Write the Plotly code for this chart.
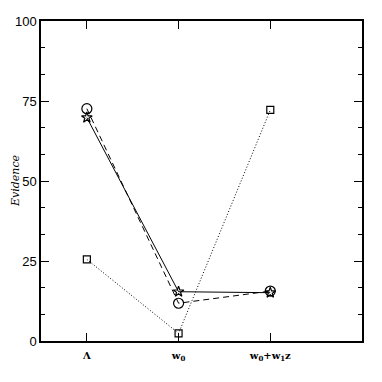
import plotly.graph_objects as go

# model positions and tick labels
models = [1, 2, 3]
model_labels = ["<b>Λ</b>", "<b>w<sub>0</sub></b>", "<b>w<sub>0</sub>+w<sub>1</sub>z</b>"]

# evidence values per series
stars = [69.8, 15.4, 15.1]
circles = [72.6, 11.8, 15.6]
squares = [25.5, 2.4, 72.2]

fig = go.Figure()

fig.add_trace(go.Scatter(
    x=models, y=squares, mode="lines+markers",
    line=dict(color="black", width=1, dash="1px,2px"),
    marker=dict(symbol="square-open", size=7, color="black", line=dict(width=1.2)),
))
fig.add_trace(go.Scatter(
    x=models, y=circles, mode="lines+markers",
    line=dict(color="black", width=1, dash="6px,4px"),
    marker=dict(symbol="circle-open", size=10, color="black", line=dict(width=1.2)),
))
fig.add_trace(go.Scatter(
    x=models, y=stars, mode="lines+markers",
    line=dict(color="black", width=1),
    marker=dict(symbol="star-open", size=8, color="black", line=dict(width=1.2)),
))

# the page body adds an 8px offset, so margins are shifted to compensate
fig.update_layout(
    width=382, height=382,
    margin=dict(l=33, r=28, t=13, b=49),
    plot_bgcolor="white", paper_bgcolor="white",
    showlegend=False,
    xaxis=dict(
        range=[0.5, 4], tickvals=models, ticktext=model_labels,
        automargin=False,
        showgrid=False, zeroline=False,
        showline=True, linecolor="black", linewidth=1.5, mirror="ticks",
        ticks="inside", ticklen=8, tickcolor="black",
        ticklabelstandoff=4,
        tickfont=dict(family="DejaVu Serif", size=10, color="black"),
    ),
    yaxis=dict(
        range=[0, 100], tickvals=[0, 25, 50, 75, 100],
        automargin=False,
        showgrid=False, zeroline=False,
        showline=True, linecolor="black", linewidth=1.5, mirror="ticks",
        ticks="inside", ticklen=8, tickcolor="black",
        minor=dict(dtick=25 / 3, ticks="inside", ticklen=4, tickcolor="black"),
        tickfont=dict(family="Liberation Sans", size=13, color="black"),
    ),
    annotations=[dict(
        text="<i>Evidence</i>", x=0, y=0.5, xref="paper", yref="paper",
        xanchor="center", yanchor="middle", xshift=-26, textangle=-90,
        showarrow=False,
        font=dict(family="DejaVu Serif", size=11, color="black"),
    )],
)

fig.write_html("out.html")
